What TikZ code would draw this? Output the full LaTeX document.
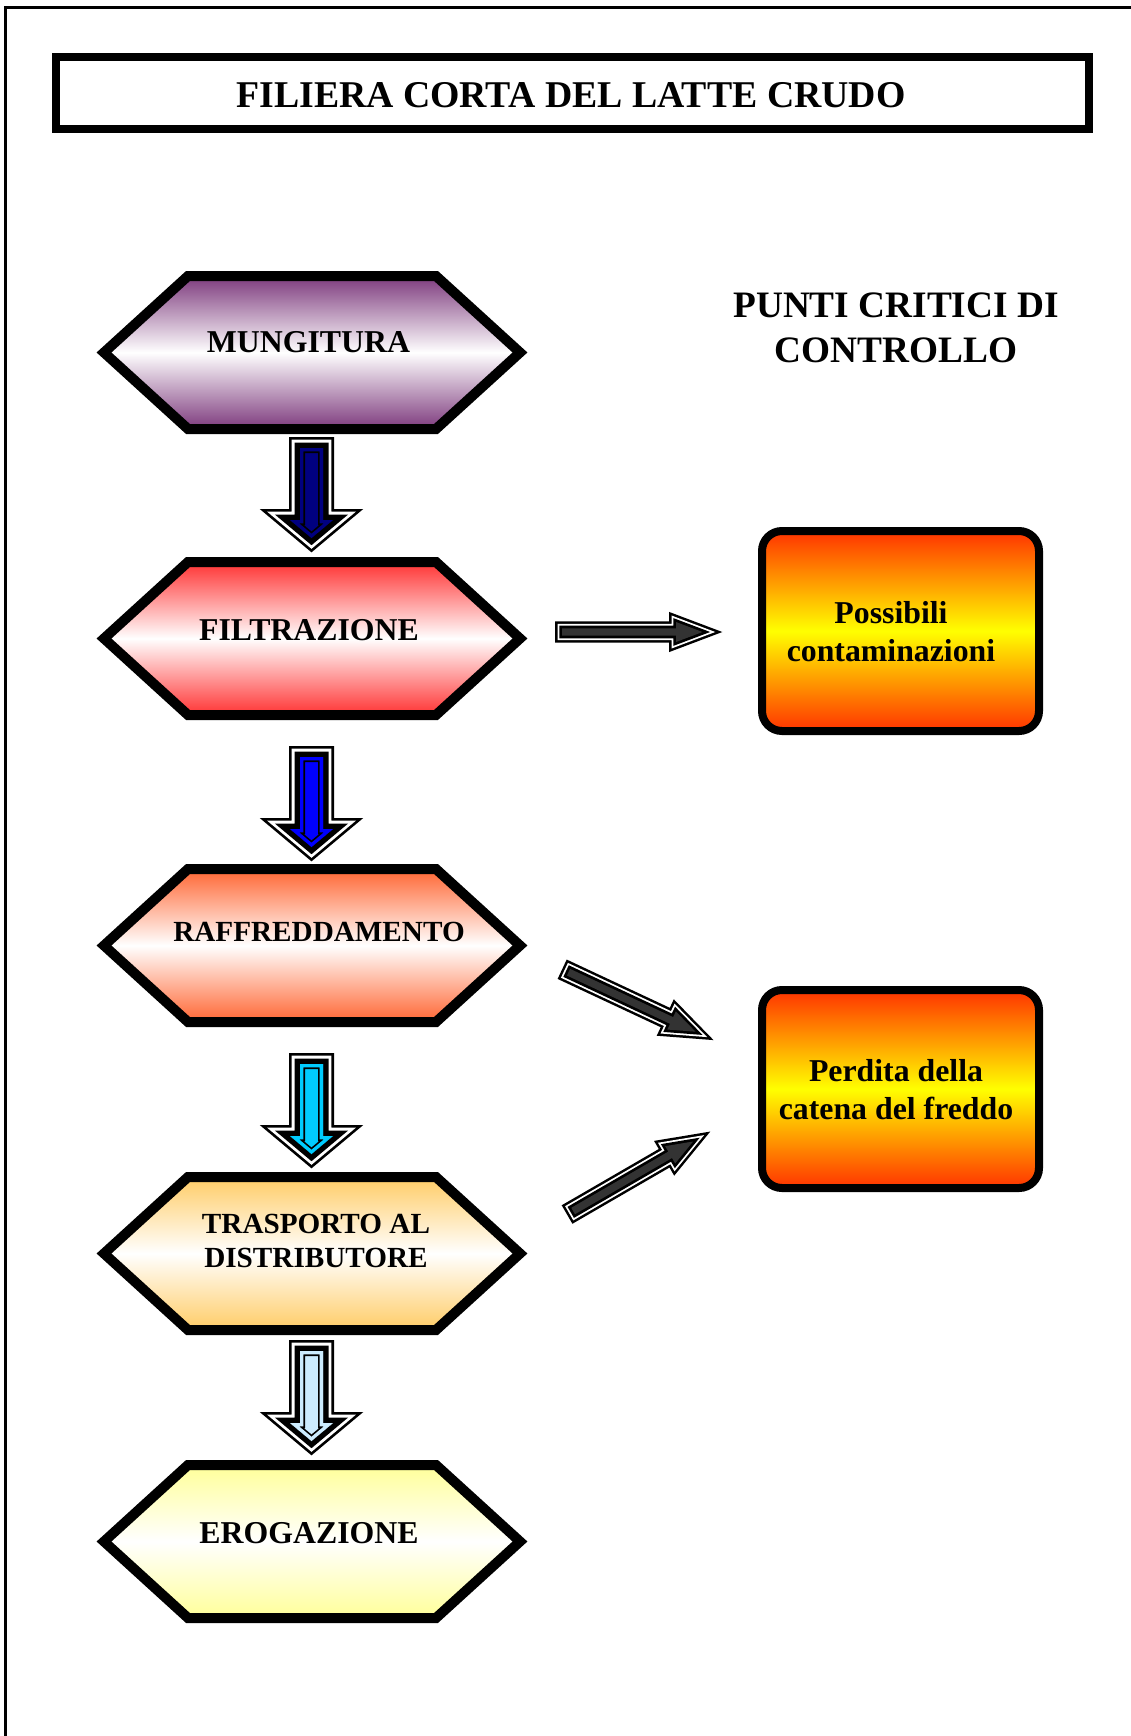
\documentclass[tikz,border=0pt]{standalone}
\usepackage{fontspec}
\setmainfont{Liberation Serif}
\usetikzlibrary{calc}

\definecolor{hexpurple}{RGB}{125,58,125}
\definecolor{hexred}{RGB}{255,51,51}
\definecolor{hexorange}{RGB}{255,102,51}
\definecolor{hexpeach}{RGB}{255,204,102}
\definecolor{hexyellow}{RGB}{255,255,153}
\definecolor{boxred}{RGB}{255,51,0}
\definecolor{arrnavy}{RGB}{0,0,128}
\definecolor{arrblue}{RGB}{0,0,255}
\definecolor{arrcyan}{RGB}{0,204,255}
\definecolor{arrlight}{RGB}{204,236,255}
\definecolor{arrgray}{RGB}{51,51,51}

\newcommand{\hexpath}[1]{(104,#1) -- (188,#1-76.5) -- (436,#1-76.5) -- (520,#1) -- (436,#1+76.5) -- (188,#1+76.5) -- cycle}

% #1 A, #2 B, #3 shaft half width, #4 head half width, #5 head length
\newcommand{\arrowpath}[5]{($(#1)!#3!90:(#2)$) -- ($(#1N)!#3!90:(#2)$) -- ($(#1N)!#4!90:(#2)$) -- (#2) -- ($(#1N)!#4!-90:(#2)$) -- ($(#1N)!#3!-90:(#2)$) -- ($(#1)!#3!-90:(#2)$) -- cycle}

% #6 fill, #7 outer lw, #8 white lw, #9 inner black lw
\newcommand{\fancyarrow}[9]{%
  \coordinate (#1N) at ($(#2)!#5!(#1)$);
  \draw[black, line width=#7] \arrowpath{#1}{#2}{#3}{#4}{#5};
  \draw[white, line width=#8] \arrowpath{#1}{#2}{#3}{#4}{#5};
  \draw[black, line width=#9] \arrowpath{#1}{#2}{#3}{#4}{#5};
  \fill[#6] \arrowpath{#1}{#2}{#3}{#4}{#5};
}
\newcommand{\downarrowblock}[3]{%
  \fancyarrow{#1}{#2}{11.5pt}{21.5pt}{18pt}{#3}{22pt}{16.6pt}{11pt}
  \begin{scope}
    \clip \arrowpath{#1}{#2}{11.5pt}{21.5pt}{18pt};
    \draw[black, line width=10pt] \arrowpath{#1}{#2}{11.5pt}{21.5pt}{18pt};
    \draw[#3, line width=6.6pt] \arrowpath{#1}{#2}{11.5pt}{21.5pt}{18pt};
  \end{scope}
}
\newcommand{\grayarrowblock}[2]{%
  \fancyarrow{#1}{#2}{3.7pt}{10pt}{26.5pt}{arrgray}{14pt}{9pt}{5.4pt}
}

\tikzset{
  hexshape/.style={draw=black, line width=10pt},
  boxshape/.style={draw=black, line width=8pt, rounded corners=20pt,
    top color=boxred, bottom color=boxred, middle color=yellow},
  hextext/.style={inner sep=0pt, font=\bfseries\fontsize{31.8}{38}\selectfont},
  hextextsmall/.style={inner sep=0pt, align=center, font=\bfseries\fontsize{29.2}{33.5}\selectfont},
  boxtext/.style={inner sep=0pt, align=center, font=\bfseries\fontsize{31.8}{38}\selectfont},
  headtext/.style={inner sep=0pt, align=center, font=\bfseries\fontsize{37.3}{45}\selectfont}
}

\begin{document}
\begin{tikzpicture}[x=1pt, y=-1pt, line join=miter]
\useasboundingbox (0,0) rectangle (1131,1736);
\fill[white] (0,0) rectangle (1131,1736);

% page frame
\draw[line width=3pt] (5,1736) -- (5,7.5) -- (1131,7.5);

% title
\draw[line width=8.3pt] (56,57) rectangle (1089,129);
\node[anchor=base, inner sep=0pt, font=\bfseries\fontsize{37.8}{44}\selectfont] (title) at (571,107.5) {FILIERA CORTA DEL LATTE CRUDO};

% header right
\node[headtext] (pcc) at (896,327.5) {PUNTI CRITICI DI\\CONTROLLO};

% hexagons
\path[hexshape, top color=hexpurple, bottom color=hexpurple, middle color=white] \hexpath{352.5};
\path[hexshape, top color=hexred, bottom color=hexred, middle color=white] \hexpath{638.5};
\path[hexshape, top color=hexorange, bottom color=hexorange, middle color=white] \hexpath{945.5};
\path[hexshape, top color=hexpeach, bottom color=hexpeach, middle color=white] \hexpath{1253.5};
\path[hexshape, top color=hexyellow, bottom color=hexyellow, middle color=white] \hexpath{1541.5};

\node[hextext, anchor=base] (mung) at (308.5,352) {MUNGITURA};
\node[hextext, anchor=base] (filt) at (309,640.5) {FILTRAZIONE};
\node[hextext, anchor=base, font=\bfseries\fontsize{29.2}{33.5}\selectfont] (raff) at (319,941.5) {RAFFREDDAMENTO};
\node[hextextsmall] (tras) at (316,1241) {TRASPORTO AL\\DISTRIBUTORE};
\node[hextext, anchor=base] (erog) at (309,1543.5) {EROGAZIONE};

% control boxes
\draw[boxshape] (762,531) rectangle (1039,731);
\node[boxtext] (cont) at (891,632) {Possibili\\contaminazioni};
\draw[boxshape] (762,990) rectangle (1039,1188);
\node[boxtext] (fred) at (896,1090) {Perdita della\\catena del freddo};

% down arrows
\coordinate (d1a) at (311.5,448);  \coordinate (d1b) at (311.5,538);
\coordinate (d2a) at (311.5,757);  \coordinate (d2b) at (311.5,847);
\coordinate (d3a) at (311.5,1064); \coordinate (d3b) at (311.5,1154);
\coordinate (d4a) at (311.5,1351); \coordinate (d4b) at (311.5,1441);
\downarrowblock{d1a}{d1b}{arrnavy}
\downarrowblock{d2a}{d2b}{arrblue}
\downarrowblock{d3a}{d3b}{arrcyan}
\downarrowblock{d4a}{d4b}{arrlight}

% gray arrows
\coordinate (g1a) at (562,632);     \coordinate (g1b) at (702.5,632);
\coordinate (g2a) at (568.5,972.2); \coordinate (g2b) at (695.6,1031.7);
\coordinate (g3a) at (573.1,1211);  \coordinate (g3b) at (693.1,1141.5);
\grayarrowblock{g1a}{g1b}
\grayarrowblock{g2a}{g2b}
\grayarrowblock{g3a}{g3b}
\end{tikzpicture}
\end{document}
